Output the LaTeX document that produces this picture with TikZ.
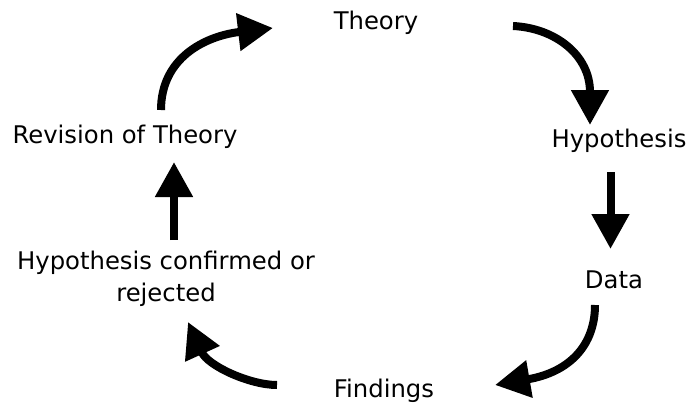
\documentclass[tikz,border=0pt]{standalone}
\usepackage{fontspec}
\setmainfont{DejaVu Sans}
\usetikzlibrary{arrows.meta}
\tikzset{
  lbl/.style={inner sep=0pt, anchor=base, font=\fontsize{24.3}{32}\selectfont, align=center},
  flow/.style={line width=8pt, -{Triangle[length=35pt, width=36pt]}},
}
\begin{document}
\begin{tikzpicture}[x=1pt, y=-1pt]
\useasboundingbox (0,0) rectangle (691,402);
\node[lbl] (theory) at (376,29) {Theory};
\node[lbl] (hyp) at (619,147) {Hypothesis};
\node[lbl] (data) at (614,288) {Data};
\node[lbl] (find) at (384,397) {Findings};
\node[lbl] (conf) at (166,301) {Hypothesis confirmed or\\rejected};
\node[lbl] (rev) at (125,143) {Revision of Theory};
% connector end points
\coordinate (a1s) at (161,110); \coordinate (a1e) at (273,28);
\coordinate (a2s) at (513,26);  \coordinate (a2e) at (590,125);
\coordinate (a3s) at (610.5,172); \coordinate (a3e) at (610.5,249);
\coordinate (a4s) at (595,305); \coordinate (a4e) at (495,385);
\coordinate (a5s) at (277,385); \coordinate (a5e) at (188,322);
\coordinate (a6s) at (174,240); \coordinate (a6e) at (174,162);
\draw[flow] (a1s) .. controls (161,58) and (205,36) .. (a1e);
\draw[flow] (a2s) .. controls (555,28) and (590,55) .. (a2e);
\draw[flow] (a3s) -- (a3e);
\draw[flow] (a4s) .. controls (595,345) and (570,372) .. (a4e);
\draw[flow] (a5s) .. controls (250,385) and (208,366) .. (a5e);
\draw[flow] (a6s) -- (a6e);
\end{tikzpicture}
\end{document}
